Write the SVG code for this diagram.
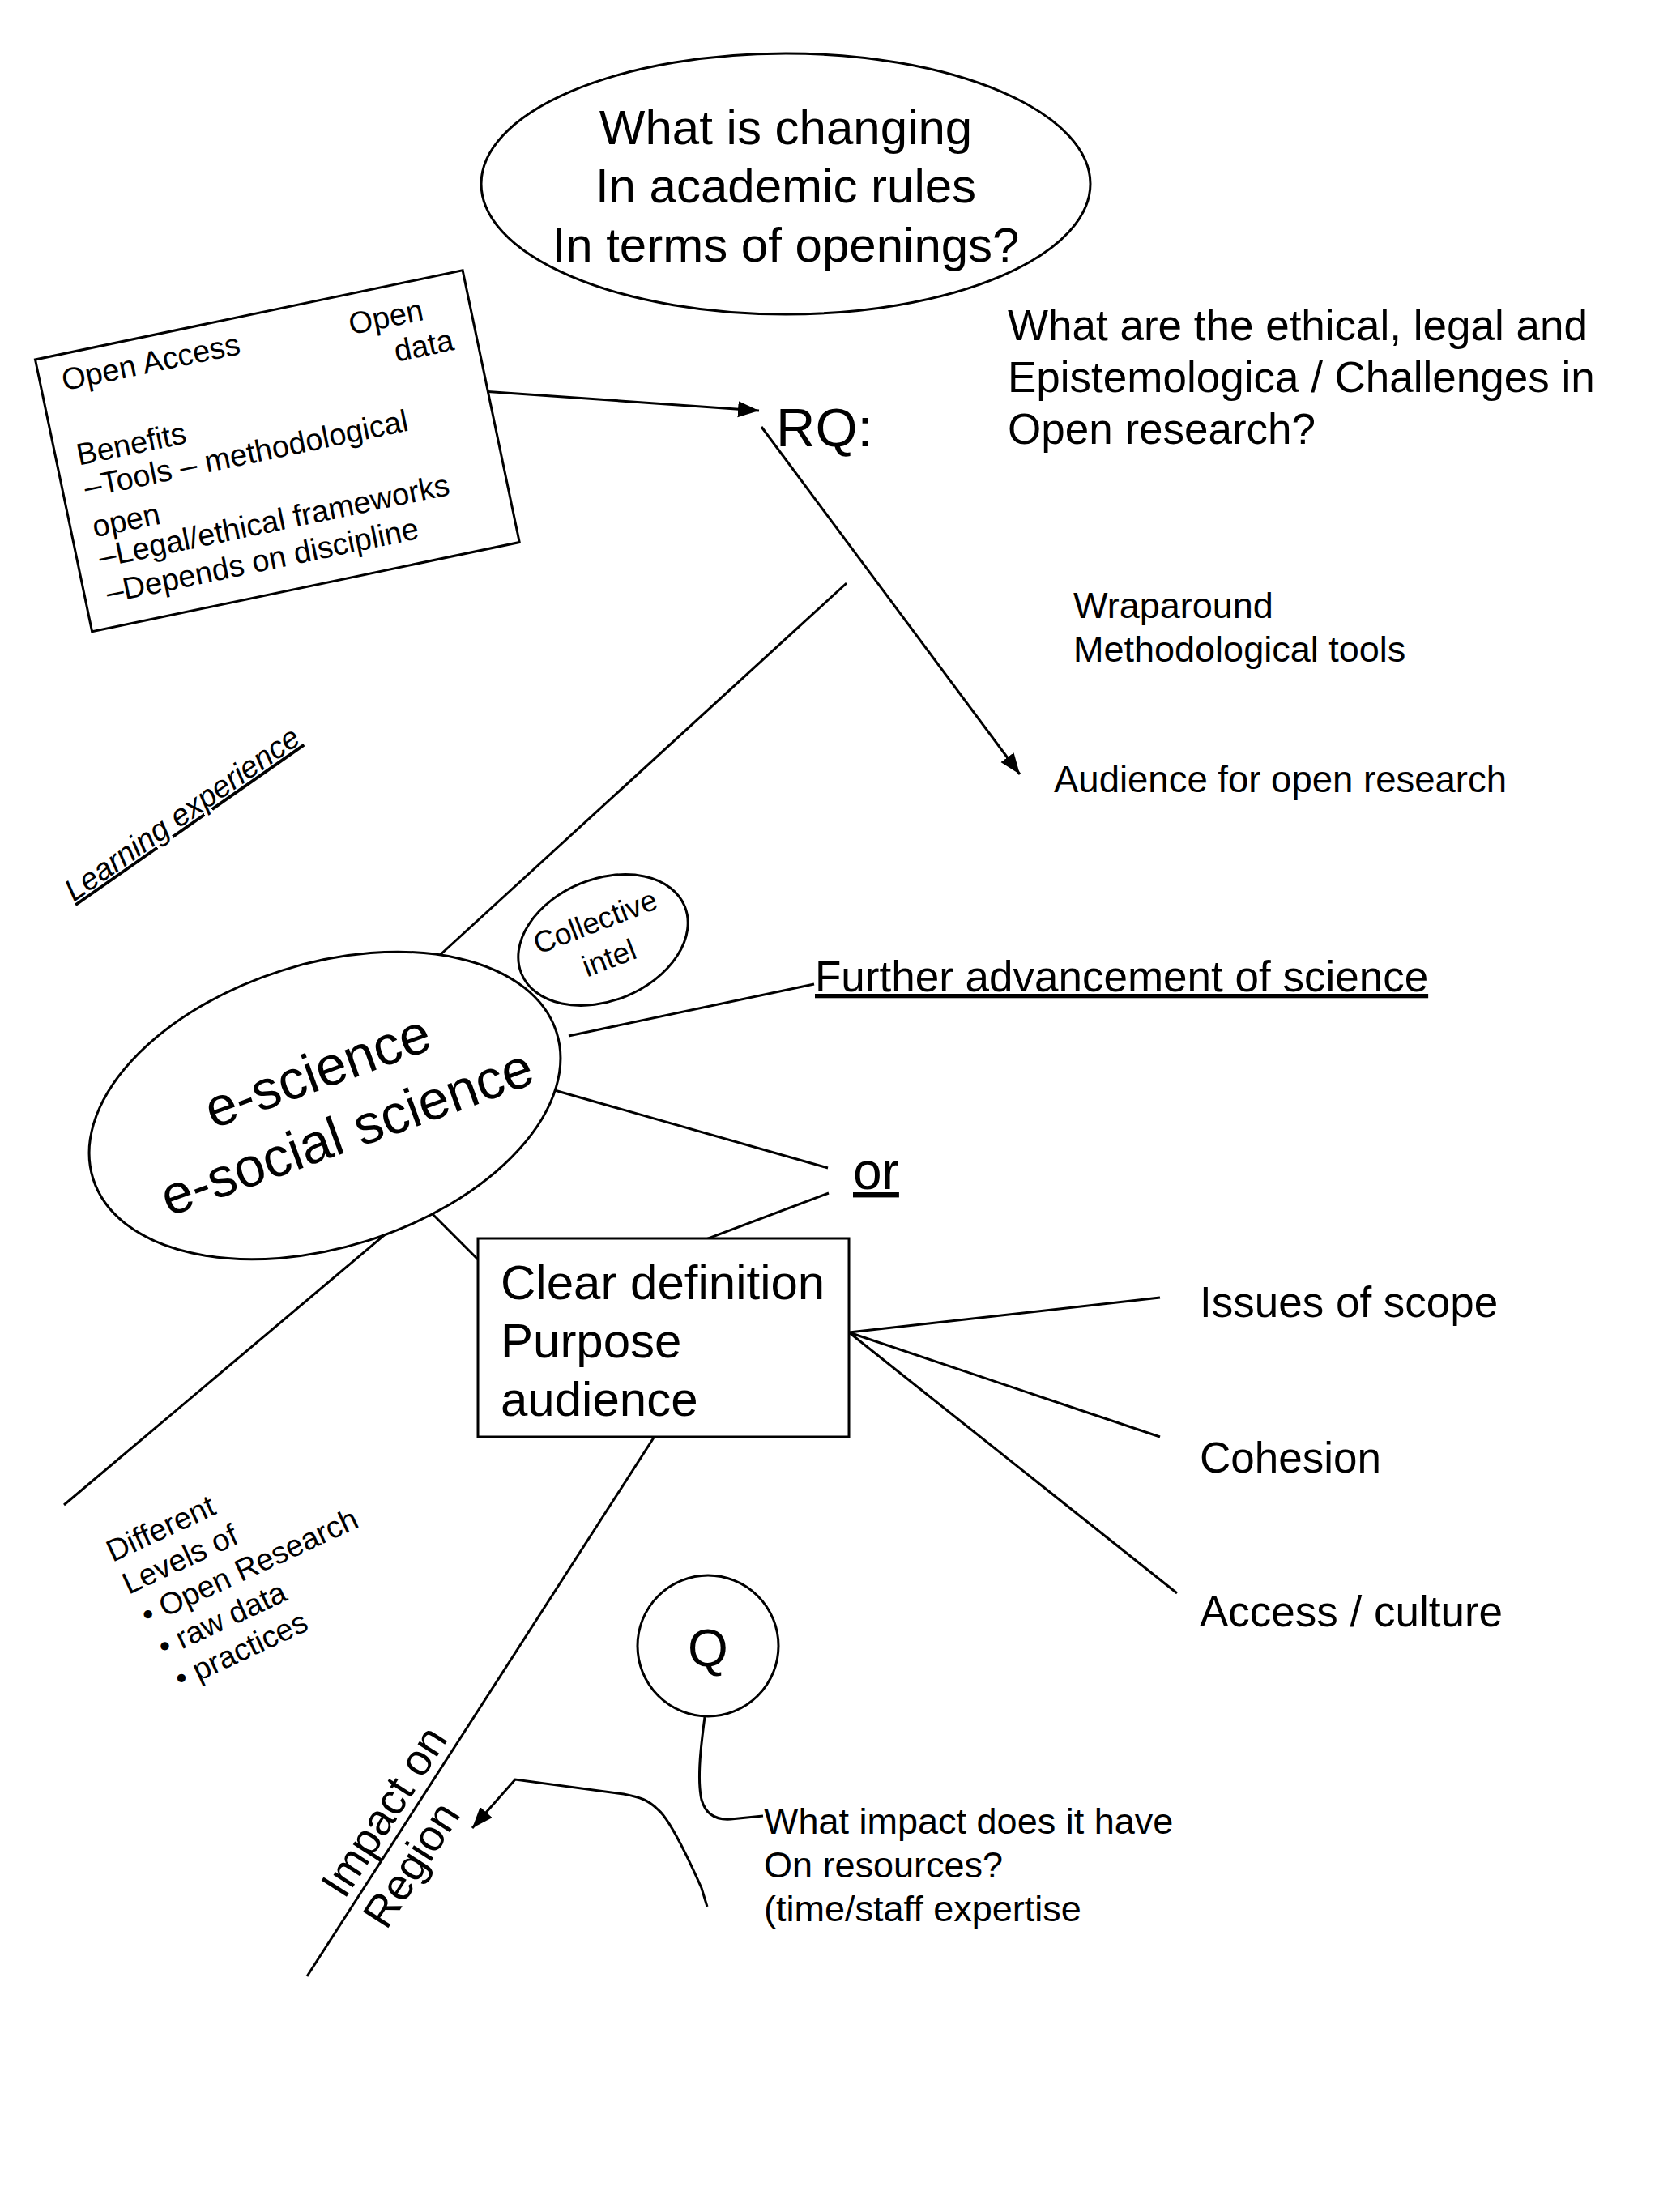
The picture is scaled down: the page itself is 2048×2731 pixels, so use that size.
<svg xmlns="http://www.w3.org/2000/svg" width="2048" height="2731" viewBox="0 0 2048 2731">
<style>
text{font-family:"Liberation Sans",Arial,sans-serif;fill:#000}
.ln{stroke:#000;stroke-width:3;fill:none}
.sh{stroke:#000;stroke-width:3;fill:#fff}
.u{text-decoration:underline}
</style>
<defs>
<marker id="ah" markerUnits="userSpaceOnUse" markerWidth="30" markerHeight="24" refX="26" refY="10" orient="auto">
<path d="M0,0 L26,10 L0,20 Z" fill="#000"/>
</marker>
</defs>
<rect width="2048" height="2731" fill="#fff"/>

<g id="connectors">
<line class="ln" x1="595" y1="483" x2="937" y2="507" marker-end="url(#ah)"/>
<line class="ln" x1="940" y1="527" x2="1259" y2="956" marker-end="url(#ah)"/>
<line class="ln" x1="1045" y1="720" x2="529" y2="1192"/>
<line class="ln" x1="702" y1="1279" x2="1005" y2="1215"/>
<line class="ln" x1="681" y1="1345" x2="1022" y2="1442"/>
<line class="ln" x1="1023" y1="1473" x2="853" y2="1537"/>
<line class="ln" x1="508" y1="1473" x2="594" y2="1559"/>
<line class="ln" x1="485" y1="1516" x2="79" y2="1858"/>
<line class="ln" x1="807" y1="1775" x2="379" y2="2440"/>
<line class="ln" x1="1048" y1="1645" x2="1432" y2="1602"/>
<line class="ln" x1="1048" y1="1645" x2="1432" y2="1774"/>
<line class="ln" x1="1048" y1="1645" x2="1453" y2="1967"/>
<path class="ln" d="M870,2120 C866,2150 860,2195 866,2222 C872,2243 888,2247 902,2246 L942,2242"/>
<path class="ln" d="M873,2354 L866,2331 C850,2295 826,2245 812,2234 C800,2222 790,2219 770,2215 L636,2197 L583,2257" marker-end="url(#ah)"/>
</g>

<g id="q-changing">
<ellipse class="sh" cx="970" cy="227" rx="376" ry="161"/>
<text x="970" y="178" font-size="60" text-anchor="middle">What is changing</text>
<text x="970" y="250" font-size="60" text-anchor="middle">In academic rules</text>
<text x="970" y="323" font-size="60" text-anchor="middle">In terms of openings?</text>
</g>

<g id="open-access" transform="translate(43.5,444) rotate(-11.8)">
<rect class="sh" x="0" y="0" width="539" height="343"/>
<text font-size="38">
<tspan x="27" y="45">Open Access</tspan>
<tspan x="388" y="50">Open</tspan>
<tspan x="436" y="94">data</tspan>
<tspan x="26" y="139">Benefits</tspan>
<tspan x="27" y="180">–Tools – methodological</tspan>
<tspan x="27" y="230">open</tspan>
<tspan x="27" y="268">–Legal/ethical frameworks</tspan>
<tspan x="27" y="313">–Depends on discipline</tspan>
</text>
</g>

<g id="rq">
<text x="958" y="551" font-size="67">RQ:</text>
</g>

<g id="rq-question">
<text x="1244" y="420" font-size="53">What are the ethical, legal and</text>
<text x="1244" y="484" font-size="53">Epistemologica / Challenges in</text>
<text x="1244" y="548" font-size="53">Open research?</text>
</g>

<g id="wraparound">
<text x="1325" y="763" font-size="45">Wraparound</text>
<text x="1325" y="817" font-size="45">Methodological tools</text>
</g>

<g id="audience">
<text x="1301" y="978" font-size="45.5">Audience for open research</text>
</g>

<g id="learning">
<text transform="translate(91,1114) rotate(-35)" font-size="38" font-style="italic" class="u">Learning experience</text>
</g>

<g id="collective">
<ellipse class="sh" cx="0" cy="0" rx="109" ry="75" transform="translate(744.5,1160.5) rotate(-22.5)"/>
<g transform="translate(744.5,1160.5) rotate(-21)">
<text x="-1" y="-12" font-size="37" text-anchor="middle">Collective</text>
<text x="-1" y="36" font-size="37" text-anchor="middle">intel</text>
</g>
</g>

<g id="escience">
<ellipse class="sh" cx="0" cy="0" rx="300" ry="175" transform="translate(401,1365) rotate(-17.5)" fill="none"/>
<g transform="translate(401,1365) rotate(-20)">
<text x="6" y="-20" font-size="68" text-anchor="middle">e-science</text>
<text x="14" y="63" font-size="68" text-anchor="middle">e-social science</text>
</g>
</g>

<g id="further">
<text x="1006" y="1224" font-size="53" class="u">Further advancement of science</text>
</g>

<g id="or">
<text x="1053" y="1468" font-size="64" class="u">or</text>
</g>

<g id="clear-def">
<rect class="sh" x="590" y="1529" width="458" height="245"/>
<text x="618" y="1604" font-size="60">Clear definition</text>
<text x="618" y="1676" font-size="60">Purpose</text>
<text x="618" y="1748" font-size="60">audience</text>
</g>

<g id="issues"><text x="1481" y="1626" font-size="53">Issues of scope</text></g>
<g id="cohesion"><text x="1481" y="1818" font-size="53">Cohesion</text></g>
<g id="access"><text x="1481" y="2008" font-size="53">Access / culture</text></g>

<g id="levels" transform="translate(139,1929) rotate(-25)">
<text font-size="38">
<tspan x="0" y="0">Different</tspan>
<tspan x="1" y="44.5">Levels of</tspan>
<tspan x="6" y="89">• Open Research</tspan>
<tspan x="8" y="133.5">• raw data</tspan>
<tspan x="10" y="178">• practices</tspan>
</text>
</g>

<g id="impact" transform="translate(379,2440) rotate(-57.2)">
<text x="104" y="-12" font-size="54">Impact on</text>
<text x="100" y="52" font-size="54">Region</text>
</g>

<g id="q">
<circle class="sh" cx="874" cy="2032" r="87"/>
<text x="874" y="2057" font-size="64" text-anchor="middle">Q</text>
</g>

<g id="impact-resources">
<text x="943" y="2264" font-size="45">What impact does it have</text>
<text x="943" y="2318" font-size="45">On resources?</text>
<text x="943" y="2372" font-size="45">(time/staff expertise</text>
</g>
</svg>
